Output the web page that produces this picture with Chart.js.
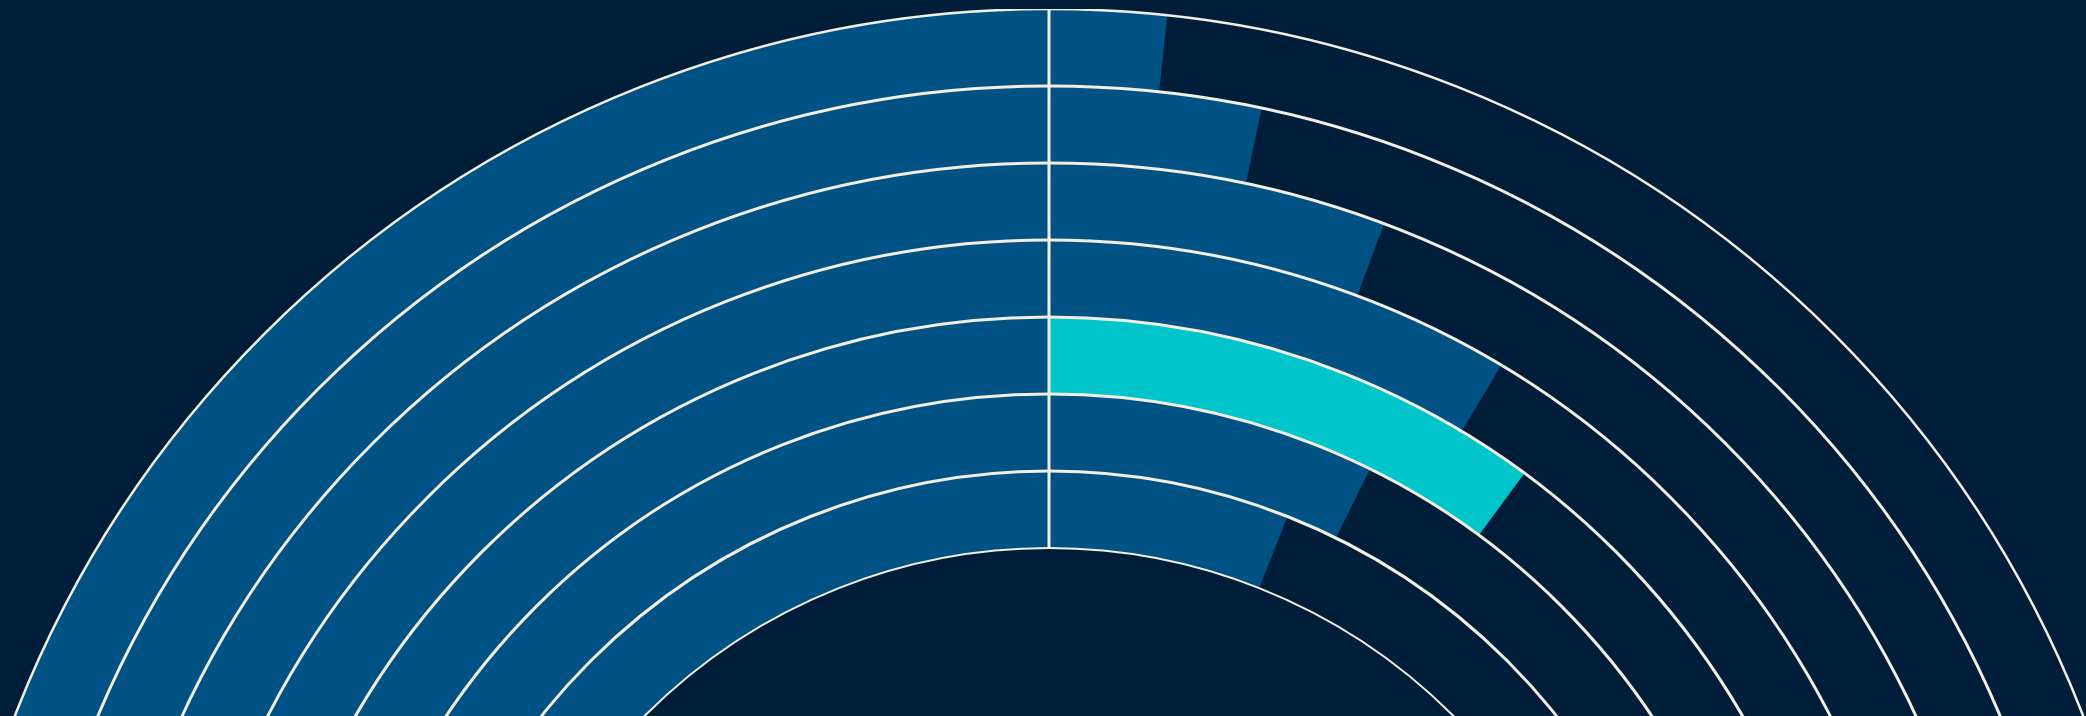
<!DOCTYPE html>
<html>
<head>
<meta charset="utf-8">
<title>Rings</title>
<script src="https://cdn.jsdelivr.net/npm/chart.js@4/dist/chart.umd.min.js"></script>
<style>
  html, body { margin:0; padding:0; width:2086px; height:716px; overflow:hidden; background:#001e3a; }
  #wrap { position:absolute; left:-61px; top:9px; width:2220px; height:2220px; }
</style>
</head>
<body>
<div id="wrap"><canvas id="rings"></canvas></div>
<script>
// one ring per category, outermost first
const ringLabels = ['Ring 1', 'Ring 2', 'Ring 3', 'Ring 4', 'Ring 5', 'Ring 6', 'Ring 7'];
// share drawn clockwise from the top, in % of the full circle
const shareValues = [1.7, 3.3, 5.7, 8.6, 10.1, 7.3, 6.0];
// fixed track on the left half
const leftValues = [50, 50, 50, 50, 50, 50, 50];
const highlightIndex = 4;

const BG = '#001e3a';
const BLUE = '#005284';
const CYAN = '#00c6cc';
const LINE = '#f2eee3';

// white ring outlines + the line at 12 o'clock
const ringLines = {
  id: 'ringLines',
  afterDatasetsDraw(chart){
    const ctx = chart.ctx;
    const n = chart.data.datasets.length;
    const first = chart.getDatasetMeta(0).data[0];
    const last = chart.getDatasetMeta(n-1).data[0];
    const cx = first.x, cy = first.y;
    ctx.save();
    ctx.strokeStyle = LINE;
    for(let i=0;i<=n;i++){
      const r = i < n ? chart.getDatasetMeta(i).data[0].outerRadius : last.innerRadius;
      ctx.lineWidth = (i === 0) ? 2.5 : (i === n ? 2 : 3);
      ctx.beginPath();
      ctx.arc(cx, cy, r, 0, Math.PI*2);
      ctx.stroke();
    }
    ctx.lineWidth = 3;
    ctx.beginPath();
    ctx.moveTo(cx, cy - first.outerRadius);
    ctx.lineTo(cx, cy - last.innerRadius);
    ctx.stroke();
    ctx.restore();
  }
};

function buildDatasets(){
  return ringLabels.map((label, i)=>({
    label,
    data: [shareValues[i], 50 - shareValues[i], leftValues[i]],
    backgroundColor: [i === highlightIndex ? CYAN : BLUE, 'rgba(0,0,0,0)', BLUE],
    borderWidth: 0,
    hoverOffset: 0
  }));
}

new Chart(document.getElementById('rings'), {
  type: 'doughnut',
  data: {
    labels: ['share', 'rest', 'track'],
    datasets: buildDatasets()
  },
  options: {
    responsive: true,
    maintainAspectRatio: false,
    animation: false,
    events: [],
    cutout: '51.44%',
    rotation: 0,
    circumference: 360,
    layout: { padding: 0 },
    plugins: { legend: { display:false }, tooltip: { enabled:false } }
  },
  plugins: [ringLines]
});
</script>
</body>
</html>
